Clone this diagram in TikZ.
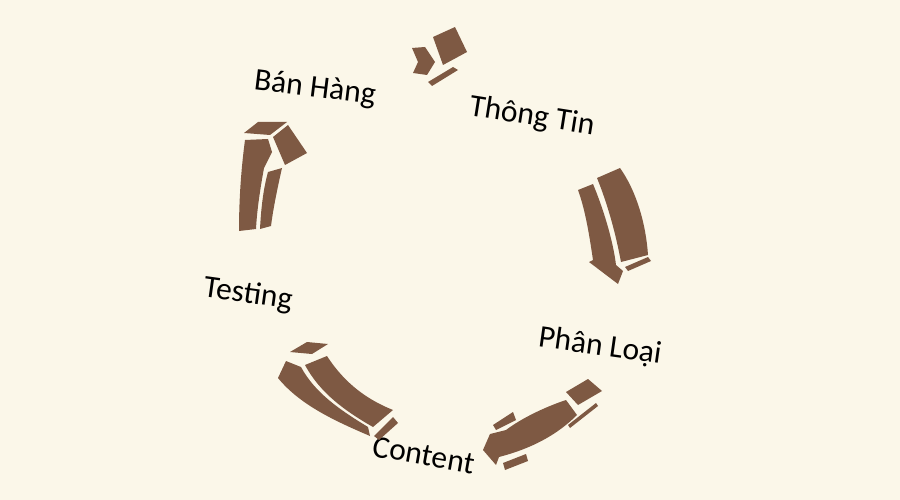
\documentclass[tikz,border=0pt]{standalone}
\usepackage{fontspec}
\setmainfont{Carlito}
\definecolor{bg}{RGB}{251,247,233}
\definecolor{brown}{RGB}{126,89,67}
\begin{document}
\begin{tikzpicture}[x=1pt,y=-1pt,
  lbl/.style={inner sep=0pt, font=\fontsize{31.5}{36}\selectfont, text=black},
  blk/.style={fill=brown, draw=none}]
\fill[bg] (0,0) rectangle (900,500);
\useasboundingbox (0,0) rectangle (900,500);

% labels
\node[lbl, rotate=-7] (ban) at (315,89) {Bán Hàng};
\node[lbl, rotate=-9] (thong) at (532,117) {Thông Tin};
\node[lbl, rotate=-8] (phan) at (600,347) {Phân Loại};
\node[lbl, rotate=-10] (content) at (424,455) {Content};
\node[lbl, rotate=-8] (testing) at (248,295) {Testing};

% arrow 1 (top, towards Thông Tin)
\fill[blk] (433,37) -- (455,27) -- (467,52) -- (443,65) -- cycle;
\fill[blk] (412,48) -- (425,47) -- (435,62) -- (427,75) -- (413,73) -- (418,62) -- cycle;
\fill[blk] (428,82) -- (453,67) -- (458,70) -- (432,86) -- cycle;

% arrow 2 (right, Thông Tin -> Phân Loại)
\fill[blk] (578,190) -- (593,184) .. controls (603,208) and (613,240) .. (616,265)
  -- (623,271) -- (618,284) -- (589,262) -- (593,260)
  .. controls (590,240) and (586,212) .. (578,190) -- cycle;
\fill[blk] (597,178) -- (620,168) .. controls (637,192) and (646,225) .. (648,255)
  -- (621,262) .. controls (616,235) and (608,205) .. (597,178) -- cycle;
\fill[blk] (625,267) -- (648,257) -- (651,261) -- (628,271) -- cycle;

% arrow 3 (Phân Loại -> Content)
\fill[blk] (566,392) -- (588,379) -- (602,391) -- (578,405) -- cycle;
\fill[blk] (566,400) .. controls (545,407) and (522,418) .. (506,430)
  -- (490,434) -- (483,450) -- (496,465) -- (499,457)
  .. controls (522,451) and (552,440) .. (577,415) -- cycle;
\fill[blk] (493,425) -- (513,412) -- (516,420) -- (496,430) -- cycle;
\fill[blk] (503,463) -- (526,454) -- (528,461) -- (505,470) -- cycle;
\fill[blk] (568,425) -- (596,403) -- (598,406) -- (570,428) -- cycle;

% arrow 4 (Content -> Testing)
\fill[blk] (290,352) -- (307,342) -- (328,344) -- (312,354) -- cycle;
\fill[blk] (278,378) -- (286,361) -- (301,367)
  .. controls (315,393) and (340,410) .. (368,427) -- (370,436)
  .. controls (335,421) and (300,405) .. (278,378) -- cycle;
\fill[blk] (305,365) -- (327,356) .. controls (345,384) and (368,400) .. (393,410)
  -- (373,427) .. controls (345,411) and (320,393) .. (305,365) -- cycle;
\fill[blk] (374,436) -- (393,417) -- (398,423) -- (379,440) -- cycle;

% arrow 5 (Testing -> Bán Hàng)
\fill[blk] (244,133) -- (258,122) -- (287,122) -- (270,135) -- cycle;
\fill[blk] (273,137) -- (288,125) -- (307,153) -- (285,165) -- cycle;
\fill[blk] (245,140) -- (268,139) -- (272,152) -- (264,168)
  .. controls (260,190) and (257,210) .. (256,229) -- (239,231)
  .. controls (239,200) and (241,170) .. (245,140) -- cycle;
\fill[blk] (268,172) -- (282,168) .. controls (277,190) and (273,210) .. (271,226)
  -- (260,229) .. controls (261,210) and (263,190) .. (268,172) -- cycle;
\end{tikzpicture}
\end{document}
